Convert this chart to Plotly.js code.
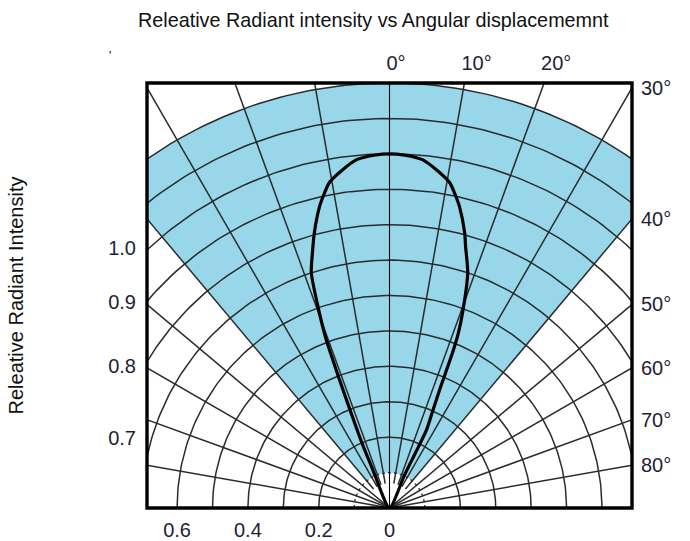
<!DOCTYPE html>
<html><head><meta charset="utf-8">
<script src="https://cdn.plot.ly/plotly-3.0.1.min.js"></script>
<style>html,body{margin:0;padding:0;background:#fff}#chart{width:690px;height:541px}</style>
</head><body><div id="chart"></div>
<script>
// Radiation pattern: angular displacement (deg, + = right) and relative radiant intensity
const angleDeg = [-23, -23.5, -23, -22.1, -21.3, -20.6, -19.6, -18.4, -16.6, -15.3, -13.1, -11.8, -10.5, -8, -5.4, -2.5, 0,
                  2.5, 5.4, 8, 10.5, 11.8, 13.1, 15.3, 16.2, 18.4, 20.5, 21.5, 22.1, 23, 24, 25.4, 25.2, 24.5, 24];
const relIntensity = [0, 0.12, 0.2, 0.28, 0.39, 0.51, 0.6, 0.70, 0.76, 0.805, 0.873, 0.905, 0.934, 0.963, 0.988, 0.997, 1.0,
                      0.997, 0.988, 0.963, 0.934, 0.905, 0.873, 0.805, 0.77, 0.70, 0.59, 0.53, 0.473, 0.362, 0.30, 0.244, 0.17, 0.10, 0];

// Polar grid definition
const arcRadii = [0.2, 0.3, 0.4, 0.5, 0.6, 0.7, 0.8, 0.9, 1.0, 1.1, 1.2];
const innerArcRadius = [0.1];
const spokeAngles = [-80, -70, -60, -50, -40, -30, -20, -10, 0, 10, 20, 30, 40, 50, 60, 70, 80];
const shadedAngles = [-40, 40];
const shadedRadii = [0.1, 1.2];

// Tick labels
const bottomTickVals = [0.6, 0.4, 0.2, 0];
const bottomTickText = ["0.6", "0.4", "0.2", "0"];
const leftTickText = ["1.0", "0.9", "0.8", "0.7"];
const leftTickVals = [0.734, 0.582, 0.401, 0.198];
const rightTickAngles = [30, 40, 50, 60, 70, 80];
const topTickAngles = [0, 10, 20];

const XMAX = 0.685, YMAX = 1.2;
const D = Math.PI / 180;
const px = (r, a) => r * Math.sin(a * D);
const py = (r, a) => r * Math.cos(a * D);

// shaded sector
const sx = [], sy = [];
for (let a = shadedAngles[0]; a <= shadedAngles[1]; a += 1) { sx.push(px(shadedRadii[1], a)); sy.push(py(shadedRadii[1], a)); }
for (let a = shadedAngles[1]; a >= shadedAngles[0]; a -= 1) { sx.push(px(shadedRadii[0], a)); sy.push(py(shadedRadii[0], a)); }

// arcs
const ax = [], ay = [];
arcRadii.forEach(r => {
  for (let a = -90; a <= 90; a += 1) { ax.push(px(r, a)); ay.push(py(r, a)); }
  ax.push(null); ay.push(null);
});
const ix = [], iy = [];
innerArcRadius.forEach(r => {
  for (let a = -90; a <= 90; a += 1) { ix.push(px(r, a)); iy.push(py(r, a)); }
});
// spokes
const spx = [], spy = [];
spokeAngles.forEach(a => {
  if (a === 0) return;
  const r0 = Math.abs(a) <= 40 ? 0.07 : 0;
  spx.push(px(r0, a), px(2, a), null);
  spy.push(py(r0, a), py(2, a), null);
});

const cx = angleDeg.map((a, i) => px(relIntensity[i], a));
const cy = angleDeg.map((a, i) => py(relIntensity[i], a));

const FONT = 'Liberation Sans, Arial, sans-serif';
const tickFont = {family: FONT, size: 20, color: '#1e1e34'};
const GRID = '#2b2b2b';

const traces = [
  {x: sx, y: sy, type: 'scatter', mode: 'lines', fill: 'toself', fillcolor: '#97d7e9',
   line: {width: 0, color: '#97d7e9'}, hoverinfo: 'skip'},
  {x: ax, y: ay, type: 'scatter', mode: 'lines', line: {color: GRID, width: 1.5}, hoverinfo: 'skip'},
  {x: ix, y: iy, type: 'scatter', mode: 'lines', line: {color: GRID, width: 1.3, dash: '3px,3px'}, hoverinfo: 'skip'},
  {x: spx, y: spy, type: 'scatter', mode: 'lines', line: {color: GRID, width: 1.5}, hoverinfo: 'skip'},
  {x: [0, 0], y: [0, 2], type: 'scatter', mode: 'lines', line: {color: '#000', width: 1.1}, hoverinfo: 'skip'},
  {x: cx, y: cy, type: 'scatter', mode: 'lines', line: {color: '#000', width: 3.2, shape: 'spline', smoothing: 0.6}, hoverinfo: 'skip'},
  {x: [null], y: [null], xaxis: 'x2', yaxis: 'y2', type: 'scatter', mode: 'lines', hoverinfo: 'skip'}
];

const layout = {
  width: 690, height: 541,
  margin: {l: 147, r: 58, t: 83, b: 33, pad: 0},
  paper_bgcolor: '#fff', plot_bgcolor: '#fff',
  showlegend: false,
  title: {text: 'Releative Radiant intensity vs Angular displacememnt',
          font: {family: FONT, size: 19.8, color: '#111'},
          x: 0.541, xref: 'container', xanchor: 'center', y: 0.963, yref: 'container', yanchor: 'middle'},
  xaxis: {range: [-XMAX, XMAX], showgrid: false, zeroline: false, showline: false, fixedrange: true,
          tickmode: 'array', tickvals: bottomTickVals.map(v => -v), ticktext: bottomTickText,
          ticks: '', ticklabelstandoff: 8, tickfont: tickFont},
  xaxis2: {overlaying: 'x', side: 'top', anchor: 'y', range: [-XMAX, XMAX], showgrid: false, zeroline: false, showline: false,
           fixedrange: true, tickmode: 'array', tickvals: topTickAngles.map(a => YMAX * Math.tan(a * D)),
           ticktext: topTickAngles.map(a => a + '°'), ticks: '', ticklabelposition: 'outside right',
           ticklabelshift: -3, ticklabelstandoff: 8, tickfont: tickFont},
  yaxis: {range: [0, YMAX], showgrid: false, zeroline: false, showline: false, fixedrange: true,
          tickmode: 'array', tickvals: leftTickVals, ticktext: leftTickText, ticks: '', ticklabelstandoff: 10,
          tickfont: tickFont,
          title: {text: 'Releative Radiant Intensity', font: {family: FONT, size: 20, color: '#111'}, standoff: 79}},
  yaxis2: {overlaying: 'y', side: 'right', anchor: 'x', range: [0, YMAX], showgrid: false, zeroline: false, showline: false,
           fixedrange: true, tickmode: 'array', tickvals: rightTickAngles.map(a => XMAX / Math.tan(a * D)),
           ticktext: rightTickAngles.map(a => a + '°'), ticks: '', ticklabelstandoff: 8, tickfont: tickFont},
  shapes: [{type: 'rect', xref: 'paper', yref: 'paper', x0: 0, x1: 1, y0: 0, y1: 1, line: {color: '#000', width: 3.4}}],
  annotations: [{text: "'", xref: 'paper', yref: 'paper', x: -0.0825, y: 1.085, showarrow: false,
                 font: {family: FONT, size: 12, color: '#000'}}]
};

Plotly.newPlot('chart', traces, layout, {displayModeBar: false, staticPlot: true});
</script></body></html>
